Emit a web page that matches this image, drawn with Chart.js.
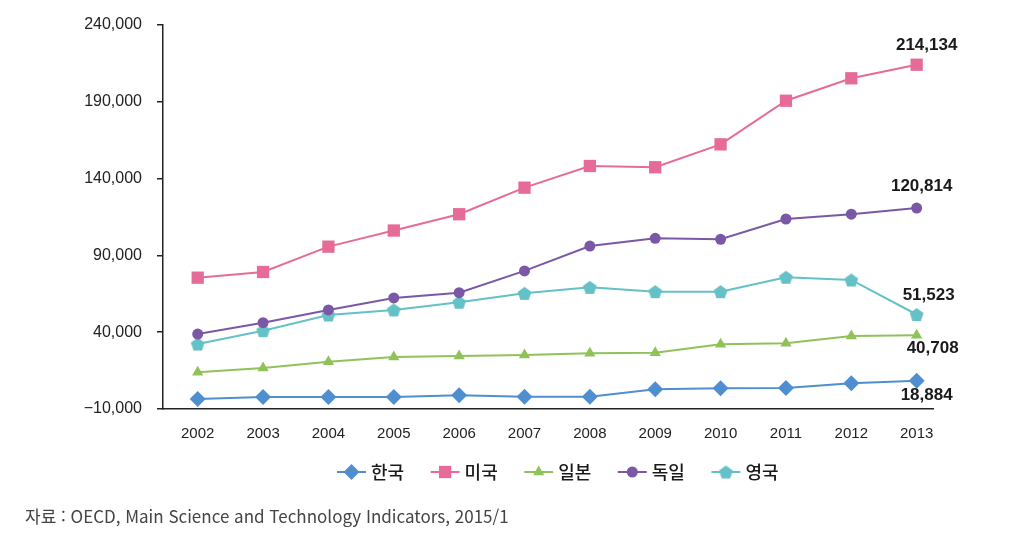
<!DOCTYPE html>
<html lang="ko">
<head>
    <meta charset="UTF-8">
    <title>연구개발 비교</title>
    <script src="https://cdn.jsdelivr.net/npm/chart.js"></script>
    <style>
        body { margin: 0; background: #fff; }
        .wrap { position: relative; width: 1017px; height: 547px; }
        .source {
            position: absolute;
            left: 25px;
            top: 503px;
            font-family: "Noto Sans CJK KR", "Noto Sans", sans-serif;
            font-size: 17px;
            color: #444;
            white-space: nowrap;
        }
    </style>
</head>
<body>

    <div class="wrap">
        <canvas id="myChart" width="1017" height="547"></canvas>
        <div class="source">자료 : OECD, Main Science and Technology Indicators, 2015/1</div>
    </div>

    <script>
        // data
        var years = [2002, 2003, 2004, 2005, 2006, 2007, 2008, 2009, 2010, 2011, 2012, 2013];
        var names = ['한국', '미국', '일본', '독일', '영국'];

        var korea   = [-3500, -2200, -2200, -2200, -1100, -2000, -2000, 2800, 3500, 3700, 6700, 8400];
        var usa     = [75500, 79200, 95700, 106200, 116800, 134100, 148200, 147400, 162300, 190700, 205300, 214134];
        var japan   = [13900, 16700, 20800, 23900, 24500, 25200, 26300, 26700, 32100, 32800, 37500, 38000];
        var germany = [38800, 46200, 54500, 62300, 65700, 79900, 96100, 101100, 100500, 113700, 116800, 120814];
        var uk      = [32300, 41000, 51200, 54500, 59500, 65300, 69200, 66400, 66400, 75800, 74000, 51523];

        var endLabels = ['18,884', '214,134', '40,708', '120,814', '51,523'];
        var yTicks = [-10000, 40000, 90000, 140000, 190000, 240000];

        var colors = ['#4f8fcf', '#e66b98', '#8fc35a', '#7a58a6', '#63c1c7'];

        // pentagon marker (chart.js has none)
        function makePentagon(color) {
            var c = document.createElement('canvas');
            c.width = 15;
            c.height = 15;
            var g = c.getContext('2d');
            g.fillStyle = color;
            g.beginPath();
            for (var k = 0; k < 5; k++) {
                var a = -Math.PI / 2 + k * 2 * Math.PI / 5;
                var px = 7.5 + Math.cos(a) * 7.2;
                var py = 8.2 + Math.sin(a) * 7.2;
                if (k === 0) g.moveTo(px, py); else g.lineTo(px, py);
            }
            g.closePath();
            g.fill();
            return c;
        }

        var markers = [
            { style: 'rectRot', radius: 8 },
            { style: 'rect', radius: 8.7 },
            { style: 'triangle', radius: 6.5 },
            { style: 'circle', radius: 5.5 },
            { style: makePentagon(colors[4]), radius: 7 }
        ];

        // label offsets next to the last point
        var labelOffsets = [[10, 15], [10, -19], [16, 13], [5, -22], [12, -19]];

        var series = [korea, usa, japan, germany, uk];

        var datasets = series.map(function (vals, i) {
            return {
                label: names[i],
                data: vals.map(function (v, j) { return { x: years[j], y: v }; }),
                borderColor: colors[i],
                backgroundColor: colors[i],
                borderWidth: 2,
                pointStyle: markers[i].style,
                pointRadius: markers[i].radius,
                pointHoverRadius: markers[i].radius,
                pointBorderWidth: 0,
                tension: 0
            };
        });

        var endLabelPlugin = {
            id: 'endLabels',
            afterDatasetsDraw: function (chart) {
                var ctx = chart.ctx;
                ctx.save();
                ctx.font = 'bold 17px "Liberation Sans", Arial, sans-serif';
                ctx.fillStyle = '#1a1a1a';
                ctx.textAlign = 'center';
                ctx.textBaseline = 'middle';
                chart.data.datasets.forEach(function (ds, i) {
                    var pts = chart.getDatasetMeta(i).data;
                    var p = pts[pts.length - 1];
                    ctx.fillText(endLabels[i], p.x + labelOffsets[i][0], p.y + labelOffsets[i][1]);
                });
                ctx.restore();
            }
        };

        var legendPlugin = {
            id: 'lineLegend',
            afterDraw: function (chart) {
                var ctx = chart.ctx;
                var y = 472;
                ctx.save();
                ctx.font = '500 18px "Noto Sans CJK KR", sans-serif';
                ctx.textBaseline = 'middle';
                ctx.textAlign = 'left';
                chart.data.datasets.forEach(function (ds, i) {
                    var x0 = 337 + i * 93.6;
                    ctx.strokeStyle = colors[i];
                    ctx.lineWidth = 2;
                    ctx.beginPath();
                    ctx.moveTo(x0, y);
                    ctx.lineTo(x0 + 29, y);
                    ctx.stroke();
                    ctx.fillStyle = colors[i];
                    Chart.helpers.drawPoint(ctx, {
                        pointStyle: markers[i].style,
                        radius: markers[i].radius,
                        borderWidth: 0,
                        rotation: 0
                    }, x0 + 14.5, y);
                    ctx.fillStyle = '#1a1a1a';
                    ctx.fillText(names[i], x0 + 34, y);
                });
                ctx.restore();
            }
        };

        var ctx = document.getElementById('myChart').getContext('2d');
        new Chart(ctx, {
            type: 'line',
            data: { datasets: datasets },
            plugins: [endLabelPlugin, legendPlugin],
            options: {
                responsive: false,
                animation: false,
                layout: { padding: { left: 0, top: 25, right: 84, bottom: 93 } },
                plugins: {
                    legend: { display: false },
                    tooltip: { enabled: false }
                },
                scales: {
                    x: {
                        type: 'linear',
                        min: 2001.469,
                        max: 2013.25,
                        afterFit: function (s) { s.height = 45; },
                        afterBuildTicks: function (s) {
                            s.ticks = years.map(function (v) { return { value: v }; });
                        },
                        grid: { display: false },
                        border: { display: true, color: '#222', width: 1.5 },
                        ticks: {
                            autoSkip: false,
                            maxRotation: 0,
                            padding: 8,
                            color: '#222',
                            font: { family: '"Liberation Sans", Arial', size: 15 },
                            callback: function (v) { return String(v); }
                        }
                    },
                    y: {
                        min: -10000,
                        max: 240000,
                        afterFit: function (s) { s.width = 163; },
                        afterBuildTicks: function (s) {
                            s.ticks = yTicks.map(function (v) { return { value: v }; });
                        },
                        grid: {
                            drawOnChartArea: false,
                            drawTicks: true,
                            tickLength: 6,
                            color: '#222',
                            lineWidth: 1.5
                        },
                        border: { display: true, color: '#222', width: 1.5 },
                        ticks: {
                            padding: 15,
                            color: '#222',
                            font: { family: '"Liberation Sans", Arial', size: 16 },
                            callback: function (v) {
                                return v.toLocaleString('en-US').replace('-', '\u2212');
                            }
                        }
                    }
                }
            }
        });
    </script>

</body>
</html>
